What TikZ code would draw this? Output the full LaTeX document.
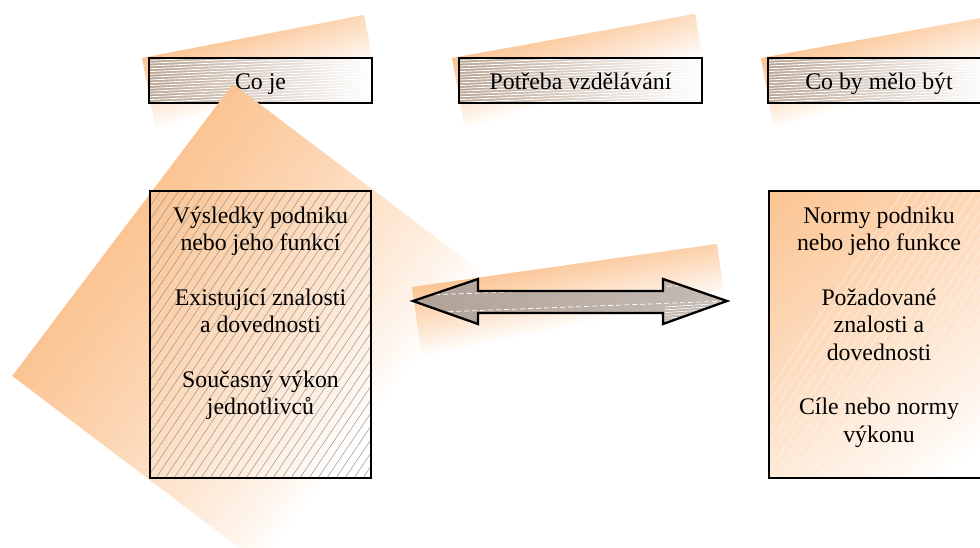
\documentclass[tikz,border=0pt]{standalone}
\usepackage{fontspec}
\setmainfont{Liberation Serif}

\definecolor{fadecol}{RGB}{251,196,146}
\definecolor{hdrtan}{RGB}{186,164,146}
\definecolor{arrowdark}{RGB}{176,162,152}
\definecolor{arrowlight}{RGB}{198,188,180}
\definecolor{hatchgrey}{RGB}{150,150,150}

% orange-to-white fade drawn as thin bands, starting at #1,
% running along direction #2 (degrees), white after #3, half-width #4,
% #5 shapes the fall-off (1 = linear)
\newcommand\orangefade[5]{%
  \begin{scope}[shift={#1},rotate=#2]
    \foreach \s in {0,2,...,#3}{%
      \pgfmathsetmacro\fadepc{100*(1-\s/#3)^#5}%
      \fill[fill=fadecol!\fadepc!white] (\s,-#4) rectangle ({\s+2.6},#4);}
  \end{scope}}

\tikzset{
  frame/.style={draw=black, line width=2.3pt},
  lbl/.style={font=\fontsize{23.8}{27.4}\selectfont, inner sep=0pt, text=black},
  hdrstripe/.style={draw=white, line width=0.8pt},
  boxhatch/.style={draw=hatchgrey, line width=0.5pt},
  lighthatch/.style={draw=white, line width=0.6pt, opacity=0.55},
  arrowdash/.style={draw=white, line width=0.7pt, dash pattern=on 5pt off 3pt},
}

\begin{document}
\begin{tikzpicture}[x=1pt,y=-1pt,line join=miter]
\useasboundingbox (0,0) rectangle (980,547);
\fill[white] (0,0) rectangle (980,547);

% ---- tilted shadows behind the three headings
\begin{scope}
  \clip (142,58) -- (364,15) -- (385,123) -- (163,166) -- cycle;
  \orangefade{(142,58)}{-72.5}{72}{300}{0.9}
\end{scope}
\begin{scope}
  \clip (452,58) -- (695,14) -- (714.6,122.2) -- (471.6,166.2) -- cycle;
  \orangefade{(452,58)}{-72.5}{72}{300}{0.9}
\end{scope}
\begin{scope}
  \clip (761,58) -- (1003,14) -- (1022,122) -- (780.6,166) -- cycle;
  \orangefade{(761,58)}{-72.5}{72}{300}{0.9}
\end{scope}

% ---- heading boxes
\foreach \xa/\xb in {149/372, 459/702, 768/990}{
  \begin{scope}
    \clip (\xa,58) rectangle (\xb,103);
    \shade[left color=hdrtan, right color=white] (\xa,58) rectangle (\xb,103);
    \foreach \k in {0,...,26}
      \draw[hdrstripe] (\xa,{52+\k*2.8}) -- (\xb,{52+\k*2.8-10});
  \end{scope}
  \draw[frame] (\xa,58) rectangle (\xb,103);
}
\node[lbl, anchor=base] (coje) at (260.5,89) {Co je};
\node[lbl, anchor=base] (potreba) at (580.5,89) {Potřeba vzdělávání};
\node[lbl, anchor=base] (melo) at (879,89) {Co by mělo být};

% ---- large tilted shadow of the left column
\begin{scope}[shift={(233,84)},rotate=-37.1]
  \clip (0,0) rectangle (440,366);
  \orangefade{(0,0)}{0}{310}{420}{0.8}
\end{scope}

% ---- shadow under the double arrow
\begin{scope}
  \clip (412,287) -- (717,244) -- (727.5,318.3) -- (422.5,361.3) -- cycle;
  \orangefade{(412,287)}{-78.5}{70}{400}{0.9}
\end{scope}

% ---- double arrow
\def\arrowpath{(413,301) -- (478,279) -- (478,291) -- (663,291) -- (663,279)
  -- (727,301) -- (663,324) -- (663,313) -- (478,313) -- (478,324) -- cycle}
\shade[left color=arrowdark, right color=arrowlight] \arrowpath;
\begin{scope}
  \clip \arrowpath;
  \draw[arrowdash] (427,295) -- (727,284);
  \draw[arrowdash] (440,312) -- (727,301);
  \foreach \k in {0,...,6}
    \draw[white, line width=0.6pt] (665,{307+\k*2.8}) -- (727,{303+\k*2.8});
\end{scope}
\draw[black, line width=2.3pt] \arrowpath;

% ---- left column: current state
\begin{scope}
  \clip (150,191) rectangle (371,478);
  \foreach \x in {-60,-51,...,372}
    \draw[boxhatch] (\x,478) -- ({\x+193.6},191);
\end{scope}
\draw[frame] (150,191) rectangle (371,478);
\node[lbl, anchor=north, align=center] (current) at (260.5,203.8)
  {\strut Výsledky podniku\\ \strut nebo jeho funkcí\\[27.4pt]
   \strut Existující znalosti\\ \strut a dovednosti\\[27.4pt]
   \strut Současný výkon\\ \strut jednotlivců};

% ---- right column: required state
\begin{scope}
  \clip (769,191) rectangle (989,478);
  \orangefade{(769,191)}{-53.1}{330}{500}{0.85}
  \foreach \x in {710,719,...,990}
    \draw[lighthatch] (\x,478) -- ({\x+193.6},191);
\end{scope}
\draw[frame] (769,191) rectangle (989,478);
\node[lbl, anchor=north, align=center] (required) at (879,203.8)
  {\strut Normy podniku\\ \strut nebo jeho funkce\\[27.4pt]
   \strut Požadované\\ \strut znalosti a\\ \strut dovednosti\\[27.4pt]
   \strut Cíle nebo normy\\ \strut výkonu};
\end{tikzpicture}
\end{document}
